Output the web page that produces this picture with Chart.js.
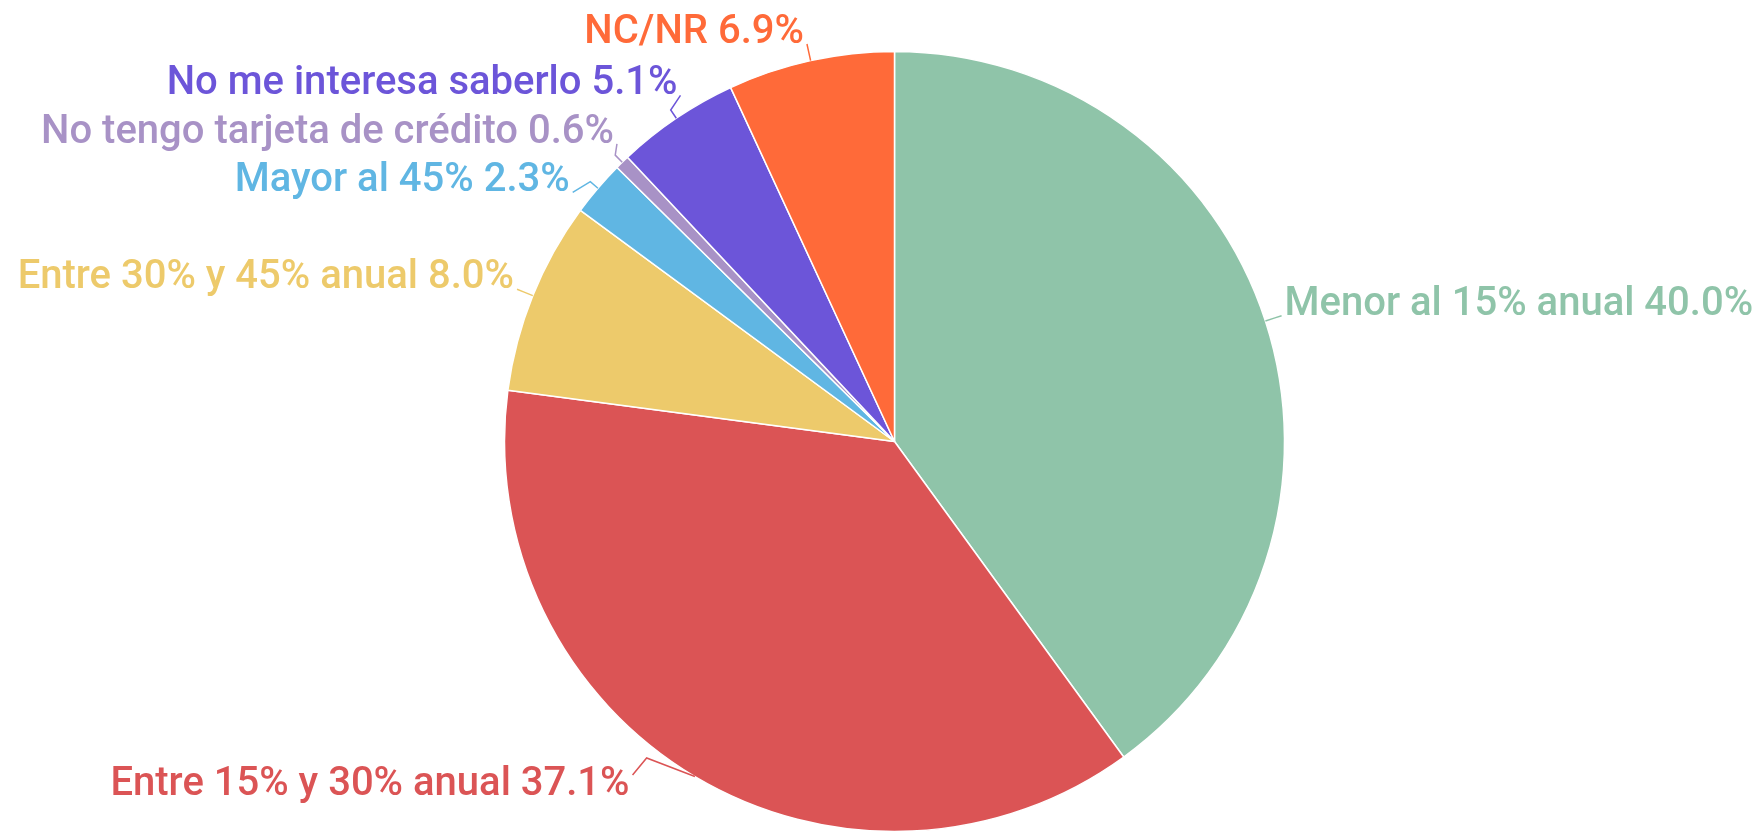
<!DOCTYPE html>
<html>
<head>
<meta charset="utf-8">
<script src="https://cdn.jsdelivr.net/npm/chart.js@4"></script>
<style>
  body { margin: 0; background: #fff; }
  #wrap { width: 1762px; height: 831px; position: relative; }
</style>
</head>
<body>
<div id="wrap"><canvas id="myChart"></canvas></div>
<script>
const categorias = ['Menor al 15% anual', 'Entre 15% y 30% anual', 'Entre 30% y 45% anual', 'Mayor al 45%', 'No tengo tarjeta de crédito', 'No me interesa saberlo', 'NC/NR'];
const porcentajes = [40.0, 37.1, 8.0, 2.3, 0.6, 5.1, 6.9];
const colores = ['#8fc4a9', '#db5455', '#edca6b', '#60b6e3', '#a892c6', '#6c55d9', '#ff6a39'];

// separa etiquetas que se pisan, centrando cada grupo
function repartir(items, gap, minY, maxY) {
    items.sort((a, b) => a.want - b.want);
    let grupos = items.map(it => ({ list: [it], y: it.want }));
    let cambio = true;
    while (cambio) {
        cambio = false;
        for (let i = 0; i < grupos.length - 1; i++) {
            const a = grupos[i], b = grupos[i + 1];
            const finA = a.y + (a.list.length - 1) * gap;
            if (b.y - finA < gap) {
                const list = a.list.concat(b.list);
                const media = list.reduce((s, it) => s + it.want, 0) / list.length;
                grupos.splice(i, 2, { list, y: media - (list.length - 1) * gap / 2 });
                cambio = true;
                break;
            }
        }
    }
    grupos.forEach(g => g.list.forEach((it, k) => it.y = g.y + k * gap));
    for (let i = 0; i < items.length; i++) {
        const lo = i ? items[i - 1].y + gap : minY;
        if (items[i].y < lo) items[i].y = lo;
    }
    for (let i = items.length - 1; i >= 0; i--) {
        const hi = i < items.length - 1 ? items[i + 1].y - gap : maxY;
        if (items[i].y > hi) items[i].y = hi;
    }
}

function enCirculo(cx, cy, R, y, signo) {
    const dy = y - cy;
    const dx = Math.abs(dy) < R ? Math.sqrt(R * R - dy * dy) : 0;
    return cx + signo * dx;
}

const etiquetas = {
    id: 'etiquetas',
    afterDraw(chart) {
        const ctx = chart.ctx;
        const arcs = chart.getDatasetMeta(0).data;
        const H = chart.height;
        const ext = 17, gap = 48.5;
        const izq = [], der = [];
        arcs.forEach((arc, i) => {
            const p = arc.getProps(['x', 'y', 'startAngle', 'endAngle', 'outerRadius'], true);
            const a = (p.startAngle + p.endAngle) / 2;
            const c = Math.cos(a), s = Math.sin(a);
            const r = p.outerRadius;
            const item = {
                i, cx: p.x, cy: p.y, r, c, s,
                ax: p.x + c * r, ay: p.y + s * r,
                arriba: s < 0
            };
            const ey = p.y + s * (r + ext);
            item.want = item.arriba ? ey - 15 : ey + 6;
            (c < 0 ? izq : der).push(item);
        });
        repartir(izq, gap, 24, H - 50);
        repartir(der, gap, 24, H - 50);

        ctx.save();
        ctx.font = '500 40px Roboto';
        ctx.textBaseline = 'alphabetic';
        [izq, der].forEach((lado, li) => {
            const signo = li === 0 ? -1 : 1;
            lado.forEach(it => {
                const R = it.r + ext;
                let ex, ey, bx, by;
                if (it.arriba) {
                    ey = it.y + 15;
                    ex = enCirculo(it.cx, it.cy, R, ey, signo);
                    bx = it.ax + it.c * 10;
                    by = it.ay + it.s * 10;
                } else {
                    ey = it.y - 6;
                    ex = enCirculo(it.cx, it.cy, R, it.y - 28, signo);
                    by = it.y - 23;
                    bx = enCirculo(it.cx, it.cy, it.r + 12, by, signo);
                }
                const col = colores[it.i];
                ctx.strokeStyle = col;
                ctx.lineWidth = 1.5;
                ctx.beginPath();
                ctx.moveTo(it.ax, it.ay);
                ctx.lineTo(bx, by);
                ctx.lineTo(ex, ey);
                ctx.stroke();
                ctx.fillStyle = col;
                ctx.textAlign = signo < 0 ? 'right' : 'left';
                const txt = categorias[it.i] + ' ' + porcentajes[it.i].toFixed(1) + '%';
                ctx.fillText(txt, ex + signo * 3, it.y + 14);
            });
        });
        ctx.restore();
    }
};

new Chart(document.getElementById('myChart'), {
    type: 'pie',
    data: {
        labels: categorias,
        datasets: [{
            data: porcentajes,
            backgroundColor: colores,
            borderColor: '#ffffff',
            borderWidth: 1.5,
            radius: 390
        }]
    },
    options: {
        responsive: true,
        maintainAspectRatio: false,
        animation: false,
        layout: { padding: { left: 27, right: 0, top: 52, bottom: 0 } },
        plugins: {
            legend: { display: false },
            tooltip: { enabled: false }
        }
    },
    plugins: [etiquetas]
});
</script>
</body>
</html>
